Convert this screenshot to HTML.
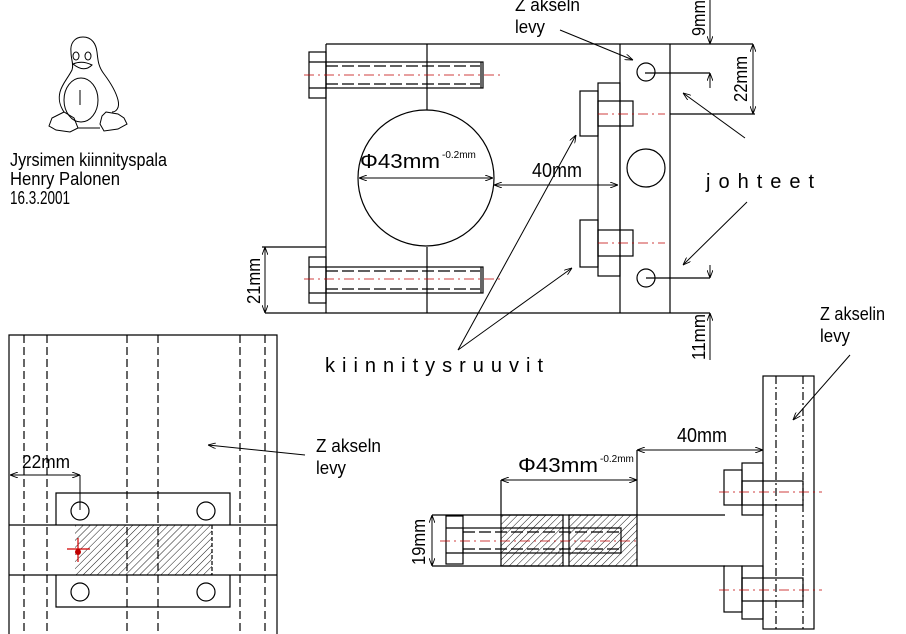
<!DOCTYPE html>
<html><head><meta charset="utf-8"><style>
html,body{margin:0;padding:0;background:#fff;}
svg{display:block;}
text{font-family:"Liberation Sans Narrow","Liberation Sans",sans-serif;fill:#000;font-weight:normal;}
</style></head><body>
<svg width="906" height="634" viewBox="0 0 906 634" xmlns="http://www.w3.org/2000/svg">
<defs>
<pattern id="h" width="5" height="5" patternUnits="userSpaceOnUse" patternTransform="rotate(45)">
<line x1="0" y1="0" x2="0" y2="5" stroke="#000" stroke-width="0.9"/>
</pattern>
<marker id="a" markerWidth="8" markerHeight="6" refX="8" refY="3" orient="auto" markerUnits="userSpaceOnUse">
<path d="M0,0 L8,3 L0,6" fill="none" stroke="#000" stroke-width="0.9"/>
</marker>
</defs>
<g fill="none" stroke="#000" stroke-width="1">
<!-- penguin -->
<path d="M83,37 C74,37 70,44 71,52 C71,60 74,64 72,70 C68,78 62,84 60,92 C58,100 60,106 64,112"/>
<path d="M83,37 C92,37 96,44 97,52 C98,60 98,66 104,74 C110,82 116,92 118,100 C120,108 116,112 112,112"/>
<ellipse cx="81" cy="100" rx="17" ry="22"/>
<line x1="80" y1="90" x2="80" y2="105"/>
<ellipse cx="76" cy="56" rx="3" ry="4"/><ellipse cx="88" cy="56" rx="3" ry="4"/>
<path d="M73,64 Q82,60 92,65 Q84,73 73,64Z"/>
<path d="M64,112 L52,118 L49,126 L56,130 L70,132 L78,128 L74,118 Z"/>
<path d="M106,112 L118,114 L124,118 L127,124 L118,129 L104,131 L100,124 L102,116 Z"/>
<path d="M78,128 L100,128"/>
</g>
<text x="10" y="166" font-size="18" textLength="157" lengthAdjust="spacingAndGlyphs">Jyrsimen kiinnityspala</text>
<text x="10" y="185" font-size="18" textLength="110" lengthAdjust="spacingAndGlyphs">Henry Palonen</text>
<text x="10" y="204" font-size="18" textLength="60" lengthAdjust="spacingAndGlyphs">16.3.2001</text>

<!-- TOP VIEW -->
<g fill="none" stroke="#000" stroke-width="1.2">
<line x1="326" y1="44" x2="753" y2="44"/>
<line x1="326" y1="44" x2="326" y2="313"/>
<line x1="265" y1="313" x2="710" y2="313"/>
<line x1="262" y1="247" x2="326" y2="247"/>
<line x1="427" y1="44" x2="427" y2="110"/><line x1="427" y1="247" x2="427" y2="313"/>
<circle cx="426" cy="178" r="68"/>
<line x1="620" y1="44" x2="620" y2="313"/>
<line x1="670" y1="44" x2="670" y2="313"/>
<line x1="670" y1="114" x2="755" y2="114"/>
<line x1="645" y1="73" x2="710" y2="73"/>
<line x1="646" y1="278" x2="710" y2="278"/>
<circle cx="646" cy="72" r="9"/><circle cx="646" cy="278" r="9"/><circle cx="646" cy="168" r="19"/>
<rect x="309" y="52" width="17" height="46"/><line x1="309" y1="62" x2="326" y2="62"/><line x1="309" y1="88" x2="326" y2="88"/>
<rect x="326" y="62" width="157" height="26"/><line x1="481" y1="62" x2="481" y2="88"/>
<rect x="309" y="257" width="17" height="46"/><line x1="309" y1="267" x2="326" y2="267"/><line x1="309" y1="293" x2="326" y2="293"/>
<rect x="326" y="267" width="157" height="26"/><line x1="481" y1="267" x2="481" y2="293"/>
<g stroke-dasharray="12,4"><line x1="326" y1="66" x2="480" y2="66"/><line x1="326" y1="84" x2="480" y2="84"/><line x1="326" y1="271" x2="480" y2="271"/><line x1="326" y1="289" x2="480" y2="289"/></g>
<rect x="598" y="83" width="22" height="193"/>
<rect x="580" y="91" width="18" height="45"/><rect x="598" y="101" width="35" height="25"/>
<rect x="580" y="220" width="18" height="47"/><rect x="598" y="230" width="35" height="26"/>
</g>
<g fill="none" stroke="#000" stroke-width="1">
<line x1="359" y1="178" x2="493" y2="178" marker-end="url(#a)"/><line x1="493" y1="178" x2="359" y2="178" marker-end="url(#a)"/>
<line x1="494" y1="185" x2="618" y2="185" marker-end="url(#a)"/><line x1="618" y1="185" x2="494" y2="185" marker-end="url(#a)"/>
<line x1="710" y1="0" x2="710" y2="44" marker-end="url(#a)"/><line x1="710" y1="88" x2="710" y2="73" marker-end="url(#a)"/>
<line x1="753" y1="44" x2="753" y2="114" marker-end="url(#a)"/><line x1="753" y1="114" x2="753" y2="44" marker-end="url(#a)"/>
<line x1="710" y1="265" x2="710" y2="278" marker-end="url(#a)"/><line x1="710" y1="360" x2="710" y2="313" marker-end="url(#a)"/>
<line x1="265" y1="247" x2="265" y2="313" marker-end="url(#a)"/><line x1="265" y1="313" x2="265" y2="247" marker-end="url(#a)"/>
<line x1="560" y1="30" x2="633" y2="60" marker-end="url(#a)"/>
<line x1="458" y1="350" x2="576" y2="135" marker-end="url(#a)"/>
<line x1="458" y1="350" x2="572" y2="268" marker-end="url(#a)"/>
<line x1="745" y1="138" x2="683" y2="93" marker-end="url(#a)"/>
<line x1="747" y1="202" x2="683" y2="265" marker-end="url(#a)"/>
</g>
<g stroke="#c00000" stroke-width="0.8" stroke-dasharray="10,4,2,4" fill="none">
<line x1="304" y1="75" x2="502" y2="75"/><line x1="304" y1="279" x2="502" y2="279"/>
<line x1="598" y1="114" x2="665" y2="114"/><line x1="598" y1="243" x2="665" y2="243"/>
</g>
<text x="360" y="168" font-size="20" textLength="80" lengthAdjust="spacingAndGlyphs">Φ43mm</text>
<text x="442" y="158" font-size="10">-0.2mm</text>
<text x="532" y="177" font-size="20" textLength="50" lengthAdjust="spacingAndGlyphs">40mm</text>
<text x="515" y="11" font-size="18" textLength="65" lengthAdjust="spacingAndGlyphs">Z akseln</text>
<text x="515" y="33" font-size="18" textLength="30" lengthAdjust="spacingAndGlyphs">levy</text>
<text x="706" y="188" font-size="20" letter-spacing="8">johteet</text>
<text x="325" y="372" font-size="20" letter-spacing="7">kiinnitysruuvit</text>
<text transform="translate(705,36) rotate(-90)" font-size="18" textLength="36" lengthAdjust="spacingAndGlyphs">9mm</text>
<text transform="translate(747,102) rotate(-90)" font-size="18" textLength="46" lengthAdjust="spacingAndGlyphs">22mm</text>
<text transform="translate(260,304) rotate(-90)" font-size="18" textLength="46" lengthAdjust="spacingAndGlyphs">21mm</text>
<text transform="translate(705,360) rotate(-90)" font-size="18" textLength="46" lengthAdjust="spacingAndGlyphs">11mm</text>

<!-- BOTTOM LEFT VIEW -->
<g fill="none" stroke="#000" stroke-width="1.2">
<rect x="75" y="525" width="137" height="50" fill="url(#h)" stroke="none"/>
<line x1="212" y1="525" x2="212" y2="575" stroke-dasharray="4,2"/>
<polyline points="9,634 9,335 277,335 277,634"/>
<line x1="9" y1="525" x2="277" y2="525"/><line x1="9" y1="575" x2="277" y2="575"/>
<g stroke-dasharray="8,4"><line x1="24" y1="335" x2="24" y2="634"/><line x1="47" y1="335" x2="47" y2="634"/><line x1="127" y1="335" x2="127" y2="634"/><line x1="158" y1="335" x2="158" y2="634"/><line x1="240" y1="335" x2="240" y2="634"/><line x1="265" y1="335" x2="265" y2="634"/></g>
<polyline points="56,525 56,493 230,493 230,525"/>
<polyline points="56,575 56,607 230,607 230,575"/>
<circle cx="80" cy="511" r="9"/><circle cx="206" cy="511" r="9"/><circle cx="80" cy="592" r="9"/><circle cx="206" cy="592" r="9"/>
</g>
<g fill="none" stroke="#000" stroke-width="1">
<line x1="10" y1="475" x2="80" y2="475" marker-end="url(#a)"/><line x1="80" y1="475" x2="10" y2="475" marker-end="url(#a)"/>
<line x1="80" y1="475" x2="80" y2="510"/>
<line x1="305" y1="455" x2="208" y2="445" marker-end="url(#a)"/>
</g>
<g stroke="#d00000" stroke-width="1.2"><line x1="67" y1="549" x2="90" y2="549"/><line x1="78" y1="538" x2="78" y2="562"/></g>
<circle cx="78" cy="552" r="3" fill="#c00000"/>
<text x="22" y="468" font-size="18" textLength="48" lengthAdjust="spacingAndGlyphs">22mm</text>
<text x="316" y="452" font-size="18" textLength="65" lengthAdjust="spacingAndGlyphs">Z akseln</text>
<text x="316" y="474" font-size="18" textLength="30" lengthAdjust="spacingAndGlyphs">levy</text>

<!-- BOTTOM RIGHT VIEW -->
<g fill="none" stroke="#000" stroke-width="1.2">
<rect x="501" y="515" width="62" height="51" fill="url(#h)"/>
<rect x="569" y="515" width="68" height="51" fill="url(#h)"/>
<line x1="432" y1="515" x2="725" y2="515"/><line x1="432" y1="566" x2="725" y2="566"/>
<rect x="446" y="516" width="17" height="48"/><line x1="446" y1="528" x2="463" y2="528"/><line x1="446" y1="553" x2="463" y2="553"/>
<rect x="463" y="528" width="158" height="25"/>
<g stroke-dasharray="12,4"><line x1="463" y1="532" x2="620" y2="532"/><line x1="463" y1="549" x2="620" y2="549"/></g>
<rect x="763" y="376" width="51" height="253"/>
<g stroke-dasharray="8,3,2,3"><line x1="776" y1="376" x2="776" y2="629"/><line x1="803" y1="376" x2="803" y2="629"/></g>
<rect x="742" y="463" width="21" height="52"/><rect x="724" y="470" width="18" height="35"/><rect x="742" y="481" width="61" height="24"/>
<rect x="742" y="566" width="21" height="53"/><rect x="724" y="566" width="18" height="46"/><rect x="742" y="578" width="61" height="23"/>
<line x1="501" y1="480" x2="501" y2="515"/><line x1="637" y1="450" x2="637" y2="515"/>
</g>
<g fill="none" stroke="#000" stroke-width="1">
<line x1="501" y1="480" x2="637" y2="480" marker-end="url(#a)"/><line x1="637" y1="480" x2="501" y2="480" marker-end="url(#a)"/>
<line x1="637" y1="450" x2="763" y2="450" marker-end="url(#a)"/><line x1="763" y1="450" x2="637" y2="450" marker-end="url(#a)"/>
<line x1="432" y1="515" x2="432" y2="566" marker-end="url(#a)"/><line x1="432" y1="566" x2="432" y2="515" marker-end="url(#a)"/>
<line x1="850" y1="355" x2="793" y2="420" marker-end="url(#a)"/>
</g>
<g stroke="#c00000" stroke-width="0.8" stroke-dasharray="10,4,2,4"><line x1="440" y1="541" x2="640" y2="541"/><line x1="719" y1="492" x2="822" y2="492"/><line x1="719" y1="590" x2="822" y2="590"/></g>
<text x="518" y="472" font-size="20" textLength="80" lengthAdjust="spacingAndGlyphs">Φ43mm</text>
<text x="600" y="462" font-size="10">-0.2mm</text>
<text x="677" y="442" font-size="20" textLength="50" lengthAdjust="spacingAndGlyphs">40mm</text>
<text x="820" y="320" font-size="18" textLength="65" lengthAdjust="spacingAndGlyphs">Z akselin</text>
<text x="820" y="342" font-size="18" textLength="30" lengthAdjust="spacingAndGlyphs">levy</text>
<text transform="translate(425,565) rotate(-90)" font-size="18" textLength="46" lengthAdjust="spacingAndGlyphs">19mm</text>
</svg>
</body></html>
